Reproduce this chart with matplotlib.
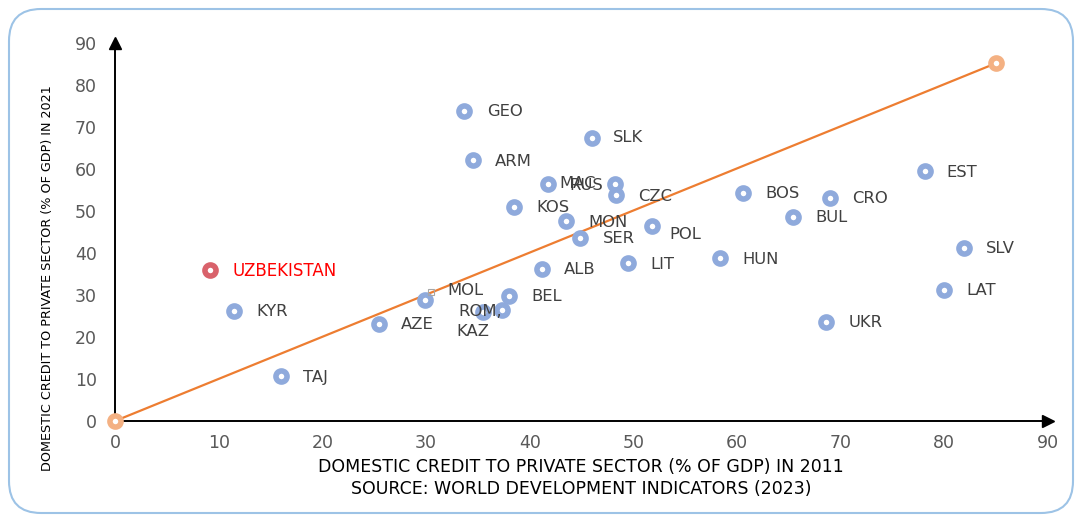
import matplotlib
matplotlib.use("Agg")
import matplotlib.pyplot as plt
from matplotlib import font_manager
from matplotlib.patches import FancyBboxPatch

# ---- data ----
countries = ["GEO", "SLK", "ARM", "EST", "MAC", "RUS", "CZC", "BOS", "CRO", "KOS",
             "BUL", "MON", "POL", "SER", "SLV", "ALB", "LIT", "HUN", "LAT", "MOL",
             "BEL", "ROM,", "KAZ", "KYR", "AZE", "UKR", "TAJ"]
credit_2011 = [33.7, 46.0, 34.5, 78.1, 41.8, 48.2, 48.3, 60.6, 69.0, 38.5,
               65.4, 43.5, 51.8, 44.9, 81.9, 41.2, 49.5, 58.4, 80.0, 29.9,
               38.0, 35.5, 37.3, 11.5, 25.5, 68.6, 16.0]
credit_2021 = [73.8, 67.4, 62.1, 59.5, 56.4, 56.4, 53.8, 54.3, 53.1, 51.0,
               48.6, 47.6, 46.4, 43.6, 41.2, 36.2, 37.6, 38.8, 31.2, 28.8,
               29.8, 26.0, 26.4, 26.2, 23.1, 23.6, 10.7]
uzb_name = "UZBEKISTAN"
uzb_2011 = [9.2]
uzb_2021 = [36.0]
line_x = [0, 85]
line_y = [0, 85.2]
ticks = [0, 10, 20, 30, 40, 50, 60, 70, 80, 90]

# label offsets in pixels (dx right, dy down); default is (22, 1)
label_offsets = {"MAC": (11, -1), "RUS": (-45, 1), "POL": (17, 8),
                 "MOL": (22, -10), "ROM,": (-25, 0), "KAZ": (-45, 21),
                 "GEO": (23, 0), "SLK": (21, 0)}

names = {f.name for f in font_manager.fontManager.ttflist}
narrow = "Liberation Sans Narrow" if "Liberation Sans Narrow" in names else "DejaVu Sans"

fig = plt.figure(figsize=(10.76, 5.15), dpi=100)
W, H = 1076, 515
x0, x1 = 115, 1048
y0, y1 = 421, 43
ax = fig.add_axes([x0 / W, 1 - y0 / H, (x1 - x0) / W, (y0 - y1) / H])
ax.set_xlim(0, 90)
ax.set_ylim(0, 90)

# border
border = FancyBboxPatch((0.09, 0.02), 10.64, 5.04,
                        boxstyle="round,pad=0,rounding_size=0.32",
                        transform=fig.dpi_scale_trans, fill=False,
                        edgecolor="#9DC3E6", linewidth=1.5, zorder=0)
fig.patches.append(border)

# axes
for s in ["top", "right", "left", "bottom"]:
    ax.spines[s].set_visible(False)
ax.plot([0, 90], [0, 0], color="black", lw=1.4, clip_on=False, zorder=2)
ax.plot([0, 0], [0, 90], color="black", lw=1.4, clip_on=False, zorder=2)
ax.plot([90], [0], marker=">", color="black", markersize=9, clip_on=False, zorder=2)
ax.plot([0], [90], marker="^", color="black", markersize=9, clip_on=False, zorder=2)

ax.set_xticks(ticks)
ax.set_yticks(ticks)
ax.tick_params(length=0, labelsize=12.5, labelcolor="#595959", pad=9)
ax.tick_params(axis="y", pad=13)

# 45-degree line
ax.plot(line_x, line_y, color="#ED7D31", lw=1.6, zorder=3, clip_on=False)
ax.plot(line_x, line_y, linestyle="none", marker="o", markersize=8,
        markerfacecolor="white", markeredgecolor="#F4B183", markeredgewidth=4,
        zorder=4, clip_on=False)

# country points
ax.plot(credit_2011, credit_2021, linestyle="none", marker="o", markersize=8,
        markerfacecolor="white", markeredgecolor="#8FAADC", markeredgewidth=4,
        zorder=5, clip_on=False)
ax.plot(uzb_2011, uzb_2021, linestyle="none", marker="o", markersize=8,
        markerfacecolor="white", markeredgecolor="#D9626B", markeredgewidth=4,
        zorder=5, clip_on=False)

px2pt = 72 / 100
for name, xv, yv in zip(countries, credit_2011, credit_2021):
    dx, dy = label_offsets.get(name, (22, 1))
    ax.annotate(name, (xv, yv), xytext=(dx * px2pt, -dy * px2pt),
                textcoords="offset points", ha="left", va="center",
                fontsize=11.8, color="#404040", zorder=6)
ax.annotate(uzb_name, (uzb_2011[0], uzb_2021[0]), xytext=(22 * px2pt, -1 * px2pt),
            textcoords="offset points", ha="left", va="center",
            fontsize=12, color="#FF0000", zorder=6)
# small empty legend-key square near MOL label
mi = countries.index("MOL")
ax.plot([credit_2011[mi]], [credit_2021[mi]], marker="s", markersize=5,
        markerfacecolor="none", markeredgecolor="#A6A6A6", markeredgewidth=0.8,
        linestyle="none", zorder=6,
        transform=ax.transData + matplotlib.transforms.ScaledTranslation(
            6 / 100, 8 / 100, fig.dpi_scale_trans))

# axis titles
fig.text(581 / W, 1 - 467 / H, "DOMESTIC CREDIT TO PRIVATE SECTOR (% OF GDP) IN 2011",
         ha="center", va="center", fontsize=12.5, color="black")
fig.text(581 / W, 1 - 489 / H, "SOURCE: WORLD DEVELOPMENT INDICATORS (2023)",
         ha="center", va="center", fontsize=12.5, color="black")
fig.text(48 / W, 1 - 278 / H, "DOMESTIC CREDIT TO PRIVATE SECTOR (% OF GDP) IN 2021",
         ha="center", va="center", rotation=90, fontsize=10.5 if narrow != "DejaVu Sans" else 9.2,
         family=narrow, color="black")

fig.savefig("out.png", dpi=100)
